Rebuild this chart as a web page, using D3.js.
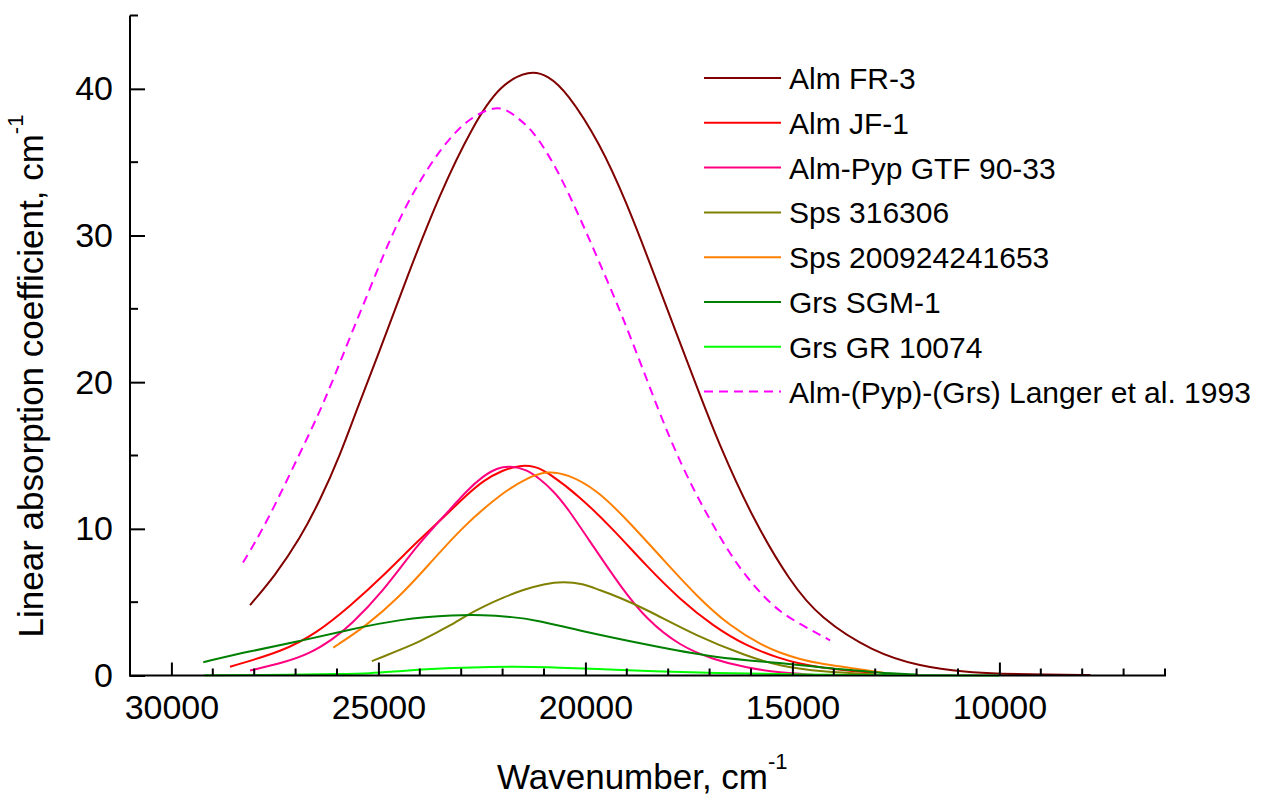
<!DOCTYPE html>
<html>
<head>
<meta charset="utf-8">
<script src="https://cdn.jsdelivr.net/npm/d3@7"></script>
<style>
  body { margin: 0; background: #fff; }
  svg { font-family: "Liberation Sans", Arial, sans-serif; }
</style>
</head>
<body>
<svg width="1261" height="797"></svg>
<script>
// wavenumber (cm-1), absorption coefficient (cm-1)
const almFR3 = [[28100,4.8],[27500,6.8],[26900,9.3],[26400,12.0],[25930,15.0],[25500,18.3],[25040,21.6],[24320,27.1],[23510,32.9],[22720,37.5],[22060,40.3],[21340,41.3],[20900,40.9],[20450,39.8],[19650,36.3],[19000,32.2],[18440,28.1],[17880,23.9],[17310,19.7],[16750,15.6],[15940,10.6],[15060,6.4],[14330,3.9],[13050,1.6],[11920,0.62],[10790,0.22],[9980,0.12],[8900,0.06],[7800,0.03]];
const almJF1 = [[28585,0.6],[27300,1.66],[26490,2.9],[25690,4.72],[24880,6.8],[24040,9.2],[23270,11.2],[22870,12.3],[22460,13.3],[22000,14.0],[21580,14.35],[21200,14.25],[20935,13.9],[20130,12.2],[19325,9.95],[18520,7.45],[17714,5.18],[16909,3.36],[16104,2.0],[15299,1.15],[14816,0.8],[14330,0.55],[13500,0.28],[13000,0.18]];
const almPyp = [[28100,0.34],[27300,0.87],[26650,1.5],[26090,2.5],[25690,3.4],[24920,5.6],[24040,9.0],[23270,11.3],[22870,12.6],[22470,13.6],[22140,14.15],[21820,14.3],[21420,14.05],[21100,13.4],[20780,12.6],[20450,11.5],[19810,8.8],[19160,6.1],[18520,3.8],[17710,2.0],[16910,1.09],[16100,0.52],[15300,0.18],[14500,0.05]];
const sps316 = [[25160,0.98],[24960,1.2],[24075,2.2],[23750,2.7],[23270,3.4],[22870,4.1],[22470,4.7],[22000,5.3],[21500,5.85],[21000,6.25],[20530,6.4],[20050,6.25],[19730,5.9],[19240,5.4],[18520,4.5],[17310,2.68],[16100,1.32],[15300,0.63],[14300,0.25],[13000,0.08]];
const sps2009 = [[26090,1.9],[25280,3.4],[24480,5.4],[23830,7.4],[22950,10.2],[21990,12.5],[21420,13.45],[20935,13.95],[20450,13.75],[19730,12.7],[18920,10.4],[18120,7.9],[17310,5.4],[16510,3.36],[15700,2.0],[15300,1.55],[14816,1.1],[14330,0.8],[13300,0.4],[12800,0.18]];
const grsSGM = [[29230,0.91],[28100,1.66],[26890,2.34],[25690,3.14],[24960,3.55],[24480,3.78],[23870,3.98],[23270,4.1],[22470,4.14],[21740,3.98],[21260,3.82],[20130,3.05],[18520,2.1],[16910,1.2],[15000,0.8],[14300,0.55],[13700,0.4],[13000,0.2],[12000,0.07]];
const grsGR = [[29200,0.02],[27000,0.05],[26000,0.1],[25200,0.14],[24500,0.3],[23300,0.52],[22500,0.57],[21700,0.6],[20900,0.57],[20050,0.48],[19300,0.4],[18440,0.3],[16900,0.18],[14800,0.05],[12000,0.01],[10000,0.0]];
const langer = [[28270,7.7],[27700,10.4],[26890,15.2],[26340,18.4],[25770,22.5],[25200,26.4],[24720,29.8],[24160,33.0],[23510,35.9],[22870,37.9],[22230,38.8],[21900,38.6],[21580,37.9],[21265,37.1],[20935,35.7],[20614,34.1],[20210,31.7],[19650,28.1],[19090,24.4],[18520,20.2],[17960,16.1],[17400,12.7],[16830,9.8],[16265,7.2],[15460,4.6],[14816,3.5],[14090,2.4]];

const seriesNames = ['Alm FR-3','Alm JF-1','Alm-Pyp GTF 90-33','Sps 316306','Sps 200924241653','Grs SGM-1','Grs GR 10074','Alm-(Pyp)-(Grs) Langer et al. 1993'];
const seriesData = [almFR3, almJF1, almPyp, sps316, sps2009, grsSGM, grsGR, langer];
const colors = ['#800000','#ff0000','#ff0080','#808000','#ff8000','#008000','#00ff00','#ff00ff'];
const dashed = [false,false,false,false,false,false,false,true];

const xMajor = [30000,25000,20000,15000,10000];
const yMajor = [0,10,20,30,40];

const svg = d3.select('svg');

const x = d3.scaleLinear().domain([31000, 6000]).range([130, 1165]);
const y = d3.scaleLinear().domain([0, 45]).range([675.5, 15.5]);

const line = d3.line()
  .x(d => x(d[0]))
  .y(d => y(d[1]))
  .curve(d3.curveBasis);

const curves = svg.append('g');
seriesData.forEach((s, i) => {
  curves.append('path')
    .datum(s)
    .attr('fill', 'none')
    .attr('stroke', colors[i])
    .attr('stroke-width', 2)
    .attr('stroke-dasharray', dashed[i] ? '9,6' : null)
    .attr('d', line);
});

// x axis
const xMinor = d3.range(29000, 5999, -1000).filter(v => !xMajor.includes(v));
const xAxis = svg.append('g').attr('transform', `translate(0, ${y(0)})`);
xAxis.call(d3.axisBottom(x).tickValues(xMajor).tickSize(-13).tickPadding(19).tickFormat(d3.format('d')))
  .call(g => g.select('.domain').remove());
xAxis.selectAll('.tick line').attr('stroke', '#000').attr('stroke-width', 2);
xAxis.selectAll('.tick text').attr('font-size', 34).attr('fill', '#000').attr('font-family', '"Liberation Sans", Arial, sans-serif');
xAxis.selectAll('.minor').data(xMinor).enter().append('line')
  .attr('x1', d => x(d)).attr('x2', d => x(d))
  .attr('y1', 0).attr('y2', -7)
  .attr('stroke', '#000').attr('stroke-width', 2);
xAxis.append('line')
  .attr('x1', x(31000) - 1).attr('x2', x(6000) + 1)
  .attr('y1', 0).attr('y2', 0)
  .attr('stroke', '#000').attr('stroke-width', 2);

// y axis
const yMinor = [5,15,25,35,45];
const yAxis = svg.append('g').attr('transform', `translate(${x(31000)}, 0)`);
yAxis.call(d3.axisLeft(y).tickValues(yMajor).tickSize(-15).tickPadding(17))
  .call(g => g.select('.domain').remove());
yAxis.selectAll('.tick line').attr('stroke', '#000').attr('stroke-width', 2);
yAxis.selectAll('.tick text').attr('font-size', 34).attr('fill', '#000').attr('font-family', '"Liberation Sans", Arial, sans-serif');
yAxis.selectAll('.minor').data(yMinor).enter().append('line')
  .attr('x1', 0).attr('x2', 8)
  .attr('y1', d => y(d)).attr('y2', d => y(d))
  .attr('stroke', '#000').attr('stroke-width', 2);
yAxis.append('line')
  .attr('x1', 0).attr('x2', 0)
  .attr('y1', y(45)).attr('y2', y(0) + 1)
  .attr('stroke', '#000').attr('stroke-width', 2);

// axis titles
const xTitle = svg.append('text')
  .attr('x', 497).attr('y', 789)
  .attr('font-size', 35).attr('fill', '#000');
xTitle.append('tspan').text('Wavenumber, cm');
xTitle.append('tspan').attr('dy', -20).attr('font-size', 22).text('-1');

const yTitle = svg.append('text')
  .attr('transform', 'translate(43, 376) rotate(-90)')
  .attr('text-anchor', 'middle')
  .attr('font-size', 35).attr('fill', '#000');
yTitle.append('tspan').text('Linear absorption coefficient, cm');
yTitle.append('tspan').attr('dy', -20).attr('font-size', 22).text('-1');

// legend
const legend = svg.append('g').attr('transform', 'translate(704, 78)');
seriesNames.forEach((name, i) => {
  const row = legend.append('g').attr('transform', `translate(0, ${i * 44.8})`);
  row.append('line')
    .attr('x1', 0).attr('x2', 77)
    .attr('y1', 0).attr('y2', 0)
    .attr('stroke', colors[i]).attr('stroke-width', 2)
    .attr('stroke-dasharray', dashed[i] ? '9,6' : null);
  row.append('text')
    .attr('x', 85).attr('y', 11)
    .attr('font-size', 30).attr('fill', '#000')
    .text(name);
});
</script>
</body>
</html>
